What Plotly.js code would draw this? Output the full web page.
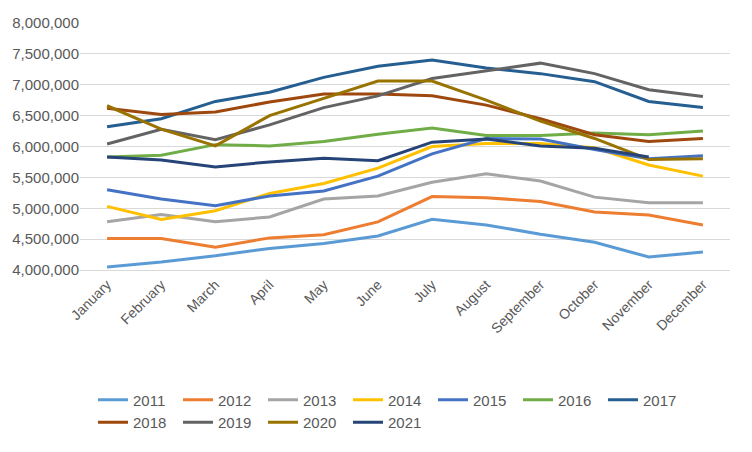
<!DOCTYPE html>
<html><head><script src="https://cdn.plot.ly/plotly-3.0.1.min.js"></script></head>
<body style="margin:0"><div id="c" style="width:752px;height:452px"></div>
<script>
const months=["January","February","March","April","May","June","July","August","September","October","November","December"];
const years=["2011","2012","2013","2014","2015","2016","2017","2018","2019","2020","2021"];
const colors=["#5B9BD5","#ED7D31","#A5A5A5","#FFC000","#4472C4","#70AD47","#255E91","#9E480E","#636363","#997300","#264478"];
const v2011=[4.05,4.13,4.23,4.35,4.43,4.55,4.82,4.73,4.58,4.45,4.21,4.29];
const v2012=[4.51,4.51,4.37,4.52,4.57,4.78,5.19,5.17,5.11,4.94,4.89,4.73];
const v2013=[4.78,4.90,4.78,4.86,5.15,5.20,5.42,5.56,5.44,5.18,5.09,5.09];
const v2014=[5.03,4.82,4.96,5.24,5.40,5.65,6.00,6.05,6.05,5.98,5.70,5.52];
const v2015=[5.30,5.15,5.04,5.20,5.28,5.52,5.88,6.13,6.12,5.95,5.80,5.85];
const v2016=[5.83,5.86,6.03,6.01,6.08,6.20,6.30,6.18,6.18,6.22,6.19,6.25];
const v2017=[6.32,6.45,6.73,6.88,7.12,7.30,7.40,7.27,7.18,7.05,6.73,6.63];
const v2018=[6.62,6.52,6.56,6.72,6.85,6.85,6.82,6.67,6.45,6.19,6.08,6.13];
const v2019=[6.04,6.28,6.11,6.35,6.63,6.82,7.10,7.22,7.35,7.18,6.92,6.81];
const v2020=[6.66,6.28,6.01,6.50,6.78,7.06,7.06,6.75,6.41,6.13,5.79,5.80];
const v2021=[5.83,5.78,5.67,5.75,5.81,5.77,6.07,6.12,6.01,5.97,5.83];
const vals=[v2011,v2012,v2013,v2014,v2015,v2016,v2017,v2018,v2019,v2020,v2021];
const traces=years.map((y,i)=>({x:months.slice(0,vals[i].length),y:vals[i].map(v=>v*1e6),name:y,type:'scatter',mode:'lines',line:{color:colors[i],width:3}}));
Plotly.newPlot('c',traces,{
 width:752,height:452,margin:{l:80,r:22,t:23,b:182},
 paper_bgcolor:'#fff',plot_bgcolor:'#fff',
 font:{family:'Liberation Sans, Arial',size:15,color:'#595959'},
 xaxis:{tickangle:-45,showgrid:false,showline:true,linecolor:'#d9d9d9',tickfont:{size:14},range:[-0.5,11.5]},
 yaxis:{range:[4e6,8e6],dtick:5e5,tickformat:',d',gridcolor:'#d9d9d9',zeroline:false,tickfont:{size:15}},
 legend:{orientation:'h',x:0.02,xanchor:'left',y:-0.46,yanchor:'top',entrywidth:40,itemwidth:30,tracegroupgap:0,font:{size:15}},
 showlegend:true
},{staticPlot:true});
</script></body></html>
